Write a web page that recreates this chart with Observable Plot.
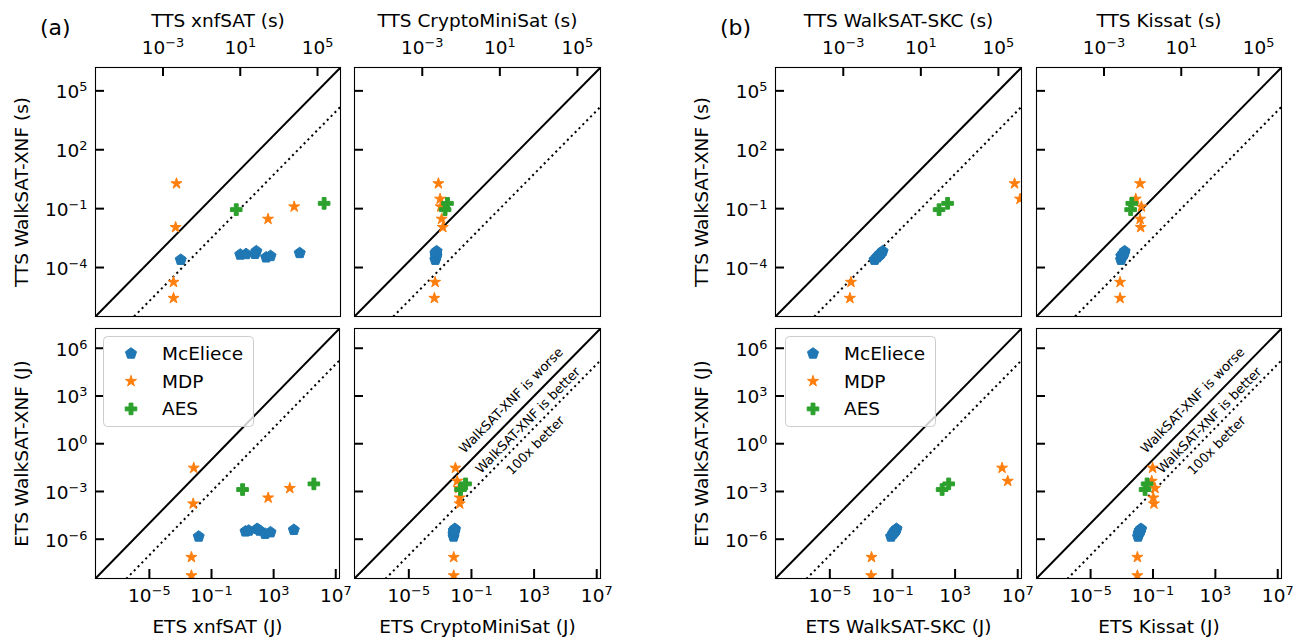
<!DOCTYPE html>
<html><head><meta charset="utf-8">
<script src="https://cdn.jsdelivr.net/npm/d3@7"></script>
<script src="https://cdn.jsdelivr.net/npm/@observablehq/plot@0.6"></script>
<style>
body{margin:0;background:#fff;}
#fig{position:relative;width:1301px;height:641px;overflow:hidden;background:#fff;font-family:"DejaVu Sans",sans-serif;}
</style></head>
<body><div id="fig"></div>
<script>
// ---------------- data ----------------
const seriesNames = ["McEliece", "MDP", "AES"];

// axis domains and ticks
const ttsDomain = [3.2e-7, 1.55e6];
const etsDomain = [3.4e-9, 1.74e7];
const ttsXTicks = [1e-3, 1e1, 1e5];
const ttsYTicks = [1e-4, 1e-1, 1e2, 1e5];
const etsXTicks = [1e-5, 1e-1, 1e3, 1e7];
const etsYTicks = [1e-6, 1e-3, 1, 1e3, 1e6];

// TTS (s) — WalkSAT-XNF (y) vs. other solvers (x)
const mcTtsWalk = [2.5e-4, 4.6e-4, 4.9e-4, 6.8e-4, 5.0e-4, 3.3e-4, 3.9e-4, 5.5e-4];
const mcTtsXnf  = [8.3e-3, 10, 20, 68, 58, 220, 370, 1.2e4];
const mcTtsCms  = [4.7e-3, 5.2e-3, 5.0e-3, 5.5e-3, 4.9e-3, 5.1e-3, 5.4e-3, 4.8e-3];
const mcTtsSkc  = [4.1e-2, 7.4e-2, 7.9e-2, 0.107, 8.1e-2, 5.4e-2, 6.3e-2, 8.9e-2];
const mcTtsKis  = [7.6e-3, 1.0e-2, 1.05e-2, 1.17e-2, 9.5e-3, 8.3e-3, 7.9e-3, 1.12e-2];

const mdpTtsWalk = [1.9, 0.31, 0.126, 2.95e-2, 1.12e-2, 1.8e-5, 2.75e-6];
const mdpTtsXnf  = [5.0e-3, null, 6.2e3, 275, 4.5e-3, 3.5e-3, 3.5e-3];
const mdpTtsCms  = [6.8e-3, 8.3e-3, 8.9e-3, 1.0e-2, 1.15e-2, 4.6e-3, 4.2e-3];
const mdpTtsSkc  = [6.8e5, 1.3e6, null, null, null, 2.5e-3, 2.2e-3];
const mdpTtsKis  = [7.4e-2, 4.4e-2, 8.7e-2, 7.4e-2, 7.9e-2, 6.8e-3, 6.8e-3];

const aesTtsWalk = [8.9e-2, 0.186];
const aesTtsXnf  = [6.2, 2.2e5];
const aesTtsCms  = [1.5e-2, 2.0e-2];
const aesTtsSkc  = [87, 240];
const aesTtsKis  = [2.4e-2, 2.75e-2];

// ETS (J)
const mcEtsWalk = [1.48e-6, 3.1e-6, 3.5e-6, 4.5e-6, 3.5e-6, 2.2e-6, 2.75e-6, 3.9e-6];
const mcEtsXnf  = [1.5e-2, 15.5, 25, 87, 126, 282, 630, 2.0e4];
const mcEtsCms  = [7.2e-3, 8.3e-3, 7.9e-3, 8.7e-3, 7.6e-3, 7.1e-3, 7.9e-3, 8.5e-3];
const mcEtsSkc  = [8.1e-2, 0.138, 0.155, 0.182, 0.15, 0.107, 0.129, 0.166];
const mcEtsKis  = [1.1e-2, 1.5e-2, 1.58e-2, 1.7e-2, 1.41e-2, 1.2e-2, 1.32e-2, 1.62e-2];

const mdpEtsWalk = [3.0e-2, 4.5e-3, 1.6e-3, 4.0e-4, 1.7e-4, 7.4e-8, 5.2e-9];
const mdpEtsXnf  = [7.2e-3, null, 1.1e4, 447, 6.6e-3, 5.1e-3, 5.1e-3];
const mdpEtsCms  = [9.5e-3, 1.23e-2, 1.58e-2, 1.78e-2, 1.78e-2, 7.4e-3, 7.4e-3];
const mdpEtsSkc  = [1.0e6, 2.3e6, null, null, null, 4.6e-3, 4.4e-3];
const mdpEtsKis  = [9.5e-2, 8.3e-2, 0.135, 0.105, 0.115, 1.0e-2, 1.0e-2];

const aesEtsWalk = [1.32e-3, 3.0e-3];
const aesEtsXnf  = [10, 3.9e5];
const aesEtsCms  = [2.0e-2, 4.2e-2];
const aesEtsSkc  = [148, 390];
const aesEtsKis  = [3.1e-2, 4.2e-2];

// annotations (ETS panels)
const noteText = ["WalkSAT-XNF is worse", "WalkSAT-XNF is better", "100x better"];
const noteX = [35, 407, 1230];
const noteY = [525, 29, 0.78];

// ---------------- styles ----------------
const colors = ["#1f77b4", "#ff7f0e", "#2ca02c"];
const pentagon = {draw(ctx, size) {
  const R = Math.sqrt(size / Math.PI);
  for (let k = 0; k < 5; k++) {
    const a = -Math.PI / 2 + k * 2 * Math.PI / 5;
    k ? ctx.lineTo(R * Math.cos(a), R * Math.sin(a)) : ctx.moveTo(R * Math.cos(a), R * Math.sin(a));
  }
  ctx.closePath();
}};
const star = {draw(ctx, size) {
  const R = Math.sqrt(size / Math.PI), r = R * 0.381966;
  for (let k = 0; k < 10; k++) {
    const a = -Math.PI / 2 + k * Math.PI / 5, q = k % 2 ? r : R;
    k ? ctx.lineTo(q * Math.cos(a), q * Math.sin(a)) : ctx.moveTo(q * Math.cos(a), q * Math.sin(a));
  }
  ctx.closePath();
}};
const plusFilled = {draw(ctx, size) {
  const R = Math.sqrt(size / Math.PI), a = R / 3;
  const p = [[-a,-R],[a,-R],[a,-a],[R,-a],[R,a],[a,a],[a,R],[-a,R],[-a,a],[-R,a],[-R,-a],[-a,-a]];
  p.forEach(([x, y], i) => i ? ctx.lineTo(x, y) : ctx.moveTo(x, y));
  ctx.closePath();
}};
const symbols = [pentagon, star, plusFilled];
const MR_ = 5.8;
const FS = 18.5;

const fig = document.getElementById("fig");
const fmt = d => "10^" + Math.round(Math.log10(d));
const pts = (xs, ys) => xs.map((x, i) => ({x, y: ys[i]})).filter(d => d.x != null && d.y != null);

function supify(svg) {
  svg.querySelectorAll('g[aria-label$="tick label"] text').forEach(t => {
    const m = t.textContent.match(/^10\^(-?\d+)$/);
    if (!m) return;
    t.textContent = "10";
    const ts = document.createElementNS("http://www.w3.org/2000/svg", "tspan");
    ts.setAttribute("font-size", "12.9px");
    ts.setAttribute("dy", "-7");
    ts.textContent = m[1].replace("-", "\u2212");
    t.appendChild(ts);
  });
}

function panel(cfg) {
  const {left, top, fw, fh, domain, xTicks, yTicks, xAnchor, yLabels, xTitle, yTitle, series, notes} = cfg;
  const ML = 110, MR = 30, MT = 80, MB = 80;
  const diag = domain.map(v => ({x: v, y: v}));
  const diag100 = domain.map(v => ({x: v, y: v / 100}));
  const marks = [
    Plot.line(diag, {x: "x", y: "y", stroke: "#000", strokeWidth: 2, strokeLinecap: "butt", clip: true}),
    Plot.line(diag100, {x: "x", y: "y", stroke: "#000", strokeWidth: 2, strokeLinecap: "butt", strokeDasharray: "2.1,3.4", clip: true})
  ];
  series.forEach((s, i) => marks.push(Plot.dot(s, {x: "x", y: "y", r: MR_, symbol: symbols[i], fill: colors[i], stroke: colors[i], strokeWidth: 1, strokeLinejoin: "round", clip: true})));
  if (notes) marks.push(Plot.text(notes, {x: "x", y: "y", text: "text", rotate: -45.5, fontSize: 13, fill: "#000"}));
  marks.push(
    Plot.tickY(yTicks, {y: d => d, insetRight: fw - 9, stroke: "#000", strokeWidth: 2}),
    xAnchor === "top"
      ? Plot.tickX(xTicks, {x: d => d, insetBottom: fh - 9, stroke: "#000", strokeWidth: 2})
      : Plot.tickX(xTicks, {x: d => d, insetTop: fh - 9, stroke: "#000", strokeWidth: 2}),
    Plot.axisX(xTicks, {anchor: xAnchor, tickSize: 0, tickPadding: xAnchor === "top" ? 14 : 10, tickFormat: fmt, label: null}),
    Plot.frame({stroke: "#000", strokeWidth: 1.1}),
    Plot.text([xTitle], {frameAnchor: xAnchor, dy: xAnchor === "top" ? -41 : 54, lineAnchor: "bottom", textAnchor: "middle", text: d => d, fontSize: FS, fill: "#000"})
  );
  if (yLabels) marks.push(
    Plot.axisY(yTicks, {anchor: "left", tickSize: 0, tickPadding: 8, dy: 1.5, tickFormat: fmt, label: null}),
    Plot.text([yTitle], {frameAnchor: "left", dx: -68, rotate: -90, lineAnchor: "bottom", textAnchor: "middle", text: d => d, fontSize: FS, fill: "#000"})
  );
  const svg = Plot.plot({
    width: ML + fw + MR, height: MT + fh + MB,
    marginLeft: ML, marginRight: MR, marginTop: MT, marginBottom: MB,
    x: {type: "log", domain, axis: null},
    y: {type: "log", domain, axis: null},
    style: {background: "transparent", fontFamily: "DejaVu Sans", fontSize: FS + "px", color: "#000", overflow: "visible"},
    marks
  });
  svg.style.position = "absolute";
  svg.style.left = (left - ML) + "px";
  svg.style.top = (top - MT) + "px";
  svg.style.maxWidth = "none";
  supify(svg);
  fig.appendChild(svg);
}

const notes = noteText.map((t, i) => ({text: t, x: noteX[i], y: noteY[i]}));

// (a)
panel({left: 95, top: 67, fw: 245, fh: 249, domain: ttsDomain, xTicks: ttsXTicks, yTicks: ttsYTicks, xAnchor: "top", yLabels: true,
  xTitle: "TTS xnfSAT (s)", yTitle: "TTS WalkSAT-XNF (s)",
  series: [pts(mcTtsXnf, mcTtsWalk), pts(mdpTtsXnf, mdpTtsWalk), pts(aesTtsXnf, aesTtsWalk)]});
panel({left: 354, top: 67, fw: 246, fh: 249, domain: ttsDomain, xTicks: ttsXTicks, yTicks: ttsYTicks, xAnchor: "top", yLabels: false,
  xTitle: "TTS CryptoMiniSat (s)",
  series: [pts(mcTtsCms, mcTtsWalk), pts(mdpTtsCms, mdpTtsWalk), pts(aesTtsCms, aesTtsWalk)]});
panel({left: 95, top: 328, fw: 244, fh: 250, domain: etsDomain, xTicks: etsXTicks, yTicks: etsYTicks, xAnchor: "bottom", yLabels: true,
  xTitle: "ETS xnfSAT (J)", yTitle: "ETS WalkSAT-XNF (J)",
  series: [pts(mcEtsXnf, mcEtsWalk), pts(mdpEtsXnf, mdpEtsWalk), pts(aesEtsXnf, aesEtsWalk)]});
panel({left: 354, top: 328, fw: 246, fh: 250, domain: etsDomain, xTicks: etsXTicks, yTicks: etsYTicks, xAnchor: "bottom", yLabels: false,
  xTitle: "ETS CryptoMiniSat (J)", notes,
  series: [pts(mcEtsCms, mcEtsWalk), pts(mdpEtsCms, mdpEtsWalk), pts(aesEtsCms, aesEtsWalk)]});
// (b)
panel({left: 775, top: 67, fw: 246, fh: 249, domain: ttsDomain, xTicks: ttsXTicks, yTicks: ttsYTicks, xAnchor: "top", yLabels: true,
  xTitle: "TTS WalkSAT-SKC (s)", yTitle: "TTS WalkSAT-XNF (s)",
  series: [pts(mcTtsSkc, mcTtsWalk), pts(mdpTtsSkc, mdpTtsWalk), pts(aesTtsSkc, aesTtsWalk)]});
panel({left: 1036, top: 67, fw: 245, fh: 249, domain: ttsDomain, xTicks: ttsXTicks, yTicks: ttsYTicks, xAnchor: "top", yLabels: false,
  xTitle: "TTS Kissat (s)",
  series: [pts(mcTtsKis, mcTtsWalk), pts(mdpTtsKis, mdpTtsWalk), pts(aesTtsKis, aesTtsWalk)]});
panel({left: 775, top: 328, fw: 246, fh: 250, domain: etsDomain, xTicks: etsXTicks, yTicks: etsYTicks, xAnchor: "bottom", yLabels: true,
  xTitle: "ETS WalkSAT-SKC (J)", yTitle: "ETS WalkSAT-XNF (J)",
  series: [pts(mcEtsSkc, mcEtsWalk), pts(mdpEtsSkc, mdpEtsWalk), pts(aesEtsSkc, aesEtsWalk)]});
panel({left: 1036, top: 328, fw: 245, fh: 250, domain: etsDomain, xTicks: etsXTicks, yTicks: etsYTicks, xAnchor: "bottom", yLabels: false,
  xTitle: "ETS Kissat (J)", notes,
  series: [pts(mcEtsKis, mcEtsWalk), pts(mdpEtsKis, mdpEtsWalk), pts(aesEtsKis, aesEtsWalk)]});

// overlay: panel tags and legends
const ov = d3.create("svg").attr("width", 1301).attr("height", 641)
  .style("position", "absolute").style("left", "0px").style("top", "0px")
  .style("font-family", "DejaVu Sans").style("pointer-events", "none");
ov.append("text").attr("x", 40).attr("y", 35).attr("font-size", 22).text("(a)");
ov.append("text").attr("x", 720).attr("y", 35).attr("font-size", 22).text("(b)");
for (const lx of [103, 785]) {
  const g = ov.append("g").attr("transform", `translate(${lx},336)`);
  g.append("rect").attr("x", 0.5).attr("y", 0.5).attr("width", 150).attr("height", 90).attr("rx", 4)
    .attr("fill", "#fff").attr("fill-opacity", 0.8).attr("stroke", "#cccccc").attr("stroke-width", 1);
  seriesNames.forEach((name, i) => {
    const cy = 17.5 + i * 27.7;
    g.append("path").attr("transform", `translate(28,${cy})`)
      .attr("d", d3.symbol(symbols[i], Math.PI * MR_ * MR_)())
      .attr("fill", colors[i]).attr("stroke", colors[i]).attr("stroke-width", 1).attr("stroke-linejoin", "round");
    g.append("text").attr("x", 59).attr("y", cy + 6.4).attr("font-size", FS).text(name);
  });
}
fig.appendChild(ov.node());
</script>
</body></html>
